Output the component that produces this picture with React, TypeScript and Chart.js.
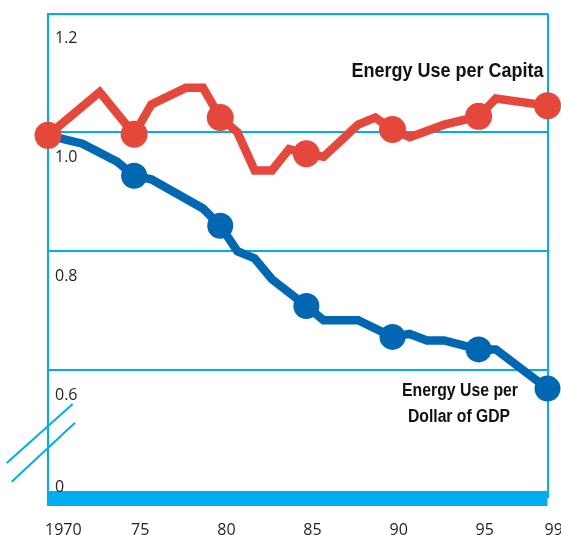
import React, { useEffect, useRef } from "react";
import { Chart, registerables } from "chart.js";

Chart.register(...registerables);

// ---- data (index, 1970 = 1.0) ----
const perCapitaYears = [1970, 1973, 1975, 1976, 1978, 1979, 1980, 1981, 1982, 1983, 1984, 1985, 1986, 1988, 1989, 1990, 1991, 1993, 1995, 1996, 1999];
const perCapitaValues = [0.995, 1.068, 0.997, 1.047, 1.075, 1.075, 1.025, 1.0, 0.936, 0.936, 0.972, 0.964, 0.959, 1.013, 1.025, 1.005, 0.992, 1.013, 1.027, 1.057, 1.045];
const perGdpYears = [1970, 1972, 1974, 1975, 1976, 1979, 1980, 1981, 1982, 1983, 1985, 1986, 1988, 1990, 1991, 1992, 1993, 1995, 1996, 1999];
const perGdpValues = [0.995, 0.981, 0.951, 0.927, 0.921, 0.872, 0.843, 0.8, 0.788, 0.753, 0.708, 0.684, 0.684, 0.656, 0.661, 0.65, 0.65, 0.635, 0.635, 0.569];
const perCapitaMarkerYears = [1970, 1975, 1980, 1985, 1990, 1995, 1999];
const perGdpMarkerYears = [1975, 1980, 1985, 1990, 1995, 1999];

const xTickYears = [1970, 1975, 1980, 1985, 1990, 1995, 1999];
const xTickLabels = ["1970", "75", "80", "85", "90", "95", "99"];
const yTickValues = [0.6, 0.8, 1.0, 1.2];
const yTickLabels = ["0.6", "0.8", "1.0", "1.2"];
const Y_MIN = 0.385; // broken-axis base (drawn as the thick bar)
const BASE_LABEL_TICK = 0.445; // where the "0" label of the broken axis sits
const BASE_LABEL = "0";

const capitaLabel = "Energy Use per Capita";
const gdpLabelLines = ["Energy Use per", "Dollar of GDP"];

const RED = "#e5483b";
const BLUE = "#0068b3";
const CYAN = "#00aeef";
const TEXT = "#231f20";
const NONE = "rgba(0,0,0,0)";

const drawFitText = (ctx: CanvasRenderingContext2D, text: string, x: number, y: number, width: number, align: "left" | "center" | "right") => {
  const w = ctx.measureText(text).width;
  const sx = width / w;
  ctx.save();
  ctx.translate(x, y);
  ctx.scale(sx, 1);
  ctx.textAlign = align;
  ctx.fillText(text, 0, 0);
  ctx.restore();
};

const decorPlugin = {
  id: "decor",
  afterDraw(chart: any) {
    const ctx: CanvasRenderingContext2D = chart.ctx;
    const { left, bottom, right } = chart.chartArea;
    // axis break marks
    ctx.save();
    ctx.strokeStyle = CYAN;
    ctx.lineWidth = 2;
    ctx.beginPath();
    ctx.moveTo(left - 41.3, bottom - 35);
    ctx.lineTo(left + 24.7, bottom - 94);
    ctx.moveTo(left - 36.3, bottom - 16.3);
    ctx.lineTo(left + 27, bottom - 75.3);
    ctx.stroke();
    ctx.restore();

    // series labels
    ctx.save();
    ctx.fillStyle = "#111111";
    ctx.textBaseline = "alphabetic";
    ctx.font = 'bold 20px "Liberation Sans", Arial, sans-serif';
    drawFitText(ctx, capitaLabel, right - 4, 76.5, 192, "right");
    ctx.font = 'bold 18px "Liberation Sans", Arial, sans-serif';
    drawFitText(ctx, gdpLabelLines[0], 460, 396, 116, "center");
    drawFitText(ctx, gdpLabelLines[1], 459, 421.5, 102, "center");
    ctx.restore();
  },
};

export default function App() {
  const ref = useRef<HTMLCanvasElement | null>(null);
  useEffect(() => {
    if (!ref.current) return;
    const chart = new Chart(ref.current, {
      type: "line",
      data: {
        datasets: [
          {
            label: capitaLabel,
            data: perCapitaYears.map((x, i) => ({ x, y: perCapitaValues[i] })),
            borderColor: RED,
            backgroundColor: RED,
            borderWidth: 8.5,
            borderJoinStyle: "miter",
            tension: 0,
            pointRadius: (c: any) => (perCapitaMarkerYears.includes(perCapitaYears[c.dataIndex]) ? 13.5 : 0),
            pointHoverRadius: (c: any) => (perCapitaMarkerYears.includes(perCapitaYears[c.dataIndex]) ? 13.5 : 0),
            pointBorderWidth: 0,
            pointBackgroundColor: RED,
            clip: false,
          } as any,
          {
            label: gdpLabelLines.join(" "),
            data: perGdpYears.map((x, i) => ({ x, y: perGdpValues[i] })),
            borderColor: BLUE,
            backgroundColor: BLUE,
            borderWidth: 8.5,
            borderJoinStyle: "miter",
            tension: 0,
            pointRadius: (c: any) => (perGdpMarkerYears.includes(perGdpYears[c.dataIndex]) ? 13 : 0),
            pointHoverRadius: (c: any) => (perGdpMarkerYears.includes(perGdpYears[c.dataIndex]) ? 13 : 0),
            pointBorderWidth: 0,
            pointBackgroundColor: BLUE,
            clip: false,
          } as any,
        ],
      },
      options: {
        responsive: false,
        animation: false,
        events: [],
        layout: { padding: { left: 48, right: 12, top: 13, bottom: 0 } },
        plugins: { legend: { display: false }, tooltip: { enabled: false } },
        scales: {
          x: {
            type: "linear",
            min: 1970,
            max: 1999,
            afterBuildTicks: (s: any) => {
              s.ticks = xTickYears.map((v) => ({ value: v }));
            },
            afterFit: (s: any) => {
              s.height = 37;
              s.paddingLeft = 0;
              s.paddingRight = 0;
            },
            ticks: {
              autoSkip: false,
              maxRotation: 0,
              minRotation: 0,
              align: "start",
              labelOffset: -3,
              padding: 23,
              color: TEXT,
              font: { family: '"Open Sans", sans-serif', size: 16 },
              callback: (v: any) => {
                const i = xTickYears.indexOf(Number(v));
                return i >= 0 ? xTickLabels[i] : "";
              },
            },
            grid: {
              drawTicks: false,
              lineWidth: 2,
              color: (c: any) => (c.tick && c.tick.value === 1999 ? CYAN : NONE),
            },
            border: { display: false },
          },
          y: {
            type: "linear",
            min: Y_MIN,
            max: 1.2,
            afterBuildTicks: (s: any) => {
              s.ticks = [Y_MIN, BASE_LABEL_TICK, ...yTickValues].map((v) => ({ value: v }));
            },
            afterFit: (s: any) => {
              s.width = 0;
              s.paddingTop = 0;
              s.paddingBottom = 0;
            },
            ticks: {
              mirror: true,
              padding: 7,
              labelOffset: 25,
              color: TEXT,
              font: { family: '"Open Sans", sans-serif', size: 16 },
              callback: (v: any) => {
                const n = Number(v);
                if (n === BASE_LABEL_TICK) return BASE_LABEL;
                const i = yTickValues.findIndex((t) => Math.abs(t - n) < 1e-9);
                return i >= 0 ? yTickLabels[i] : "";
              },
            },
            grid: {
              drawTicks: false,
              lineWidth: (c: any) => (c.tick && c.tick.value === Y_MIN ? 15 : 2),
              color: (c: any) => (c.tick && c.tick.value === BASE_LABEL_TICK ? NONE : CYAN),
            },
            border: { display: true, color: CYAN, width: 2 },
          },
        },
      },
      plugins: [decorPlugin],
    } as any);
    return () => chart.destroy();
  }, []);

  return (
    <div style={{ position: "absolute", left: 0, top: 0, width: 561, height: 535, background: "#fff" }}>
      <canvas ref={ref} width={561} height={535} style={{ display: "block" }} />
    </div>
  );
}
